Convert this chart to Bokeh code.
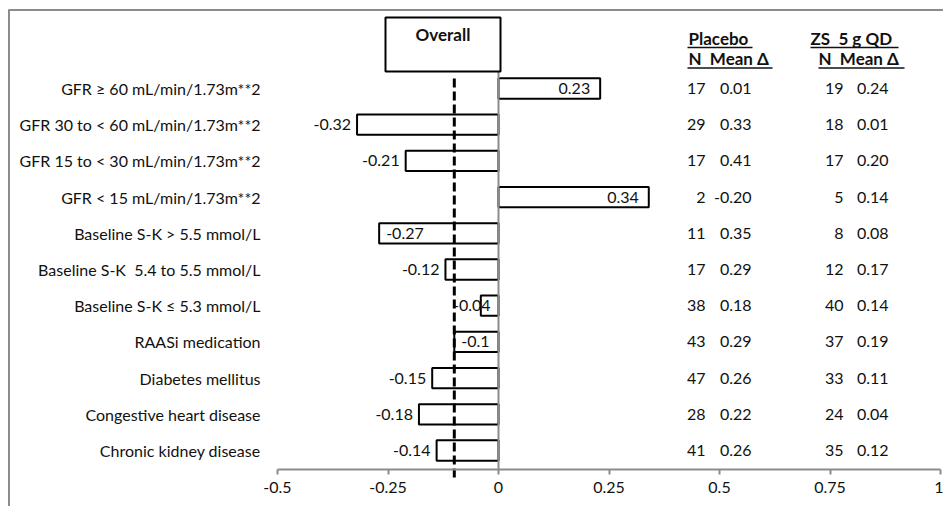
from bokeh.plotting import figure
from bokeh.models import Range1d, FixedTicker, LinearAxis, ColumnDataSource
from bokeh.core.properties import value
from bokeh.embed import file_html
from bokeh.resources import INLINE

# ---------------- data ----------------
categories = [
    "GFR \u2265 60 mL/min/1.73m**2",
    "GFR 30 to < 60 mL/min/1.73m**2",
    "GFR 15 to < 30 mL/min/1.73m**2",
    "GFR < 15 mL/min/1.73m**2",
    "Baseline S-K > 5.5 mmol/L",
    "Baseline S-K \u00a05.4 to 5.5 mmol/L",
    "Baseline S-K \u2264 5.3 mmol/L",
    "RAASi medication",
    "Diabetes mellitus",
    "Congestive heart disease",
    "Chronic kidney disease",
]
effect = [0.23, -0.32, -0.21, 0.34, -0.27, -0.12, -0.04, -0.1, -0.15, -0.18, -0.14]
effect_labels = ["0.23", "-0.32", "-0.21", "0.34", "-0.27", "-0.12", "-0.04", "-0.1", "-0.15", "-0.18", "-0.14"]
overall_effect = -0.1
placebo_n = ["17", "29", "17", "2", "11", "17", "38", "43", "47", "28", "41"]
placebo_mean = ["0.01", "0.33", "0.41", "-0.20", "0.35", "0.29", "0.18", "0.29", "0.26", "0.22", "0.26"]
zs_n = ["19", "18", "17", "5", "8", "12", "40", "37", "33", "24", "35"]
zs_mean = ["0.24", "0.01", "0.20", "0.14", "0.08", "0.17", "0.14", "0.19", "0.11", "0.04", "0.12"]
tick_values = [-0.5, -0.25, 0, 0.25, 0.5, 0.75, 1]
tick_labels = ["-0.5", "-0.25", "0", "0.25", "0.5", "0.75", "1"]
header_groups = ["Placebo", "ZS \u00a05 g QD"]
header_sub = "N \u00a0Mean \u0394"

# label placement style per bar (Excel-like data label positions)
label_mode = ["in", "out", "out", "in", "in", "out", "mid", "in", "out", "out", "out"]

# ---------------- layout constants (pixels) ----------------
W, H = 943, 506
X0, XS = 498.0, 442.0      # pixel of value 0, pixels per unit
Y0, DY = 88.0, 36.2        # pixel of first row centre, pixels per row


def px_x(px):
    return (px - X0) / XS


def px_y(py):
    return (py - Y0) / DY


FONT = value("Lato")
FS = "16px"
FS_B = "17px"
INK = "#111111"
GREY = "#8c8c8c"

p = figure(width=W, height=H, output_backend="svg", toolbar_location=None,
           x_range=Range1d(px_x(0), px_x(W)), y_range=Range1d(px_y(H), px_y(0)),
           x_axis_location=None, y_axis_location=None,
           min_border=0, min_border_left=0, min_border_right=0,
           min_border_top=0, min_border_bottom=0)
p.outline_line_color = None
p.xgrid.visible = False
p.ygrid.visible = False
p.background_fill_color = "white"
p.border_fill_color = "white"

rows = list(range(len(categories)))

# outer frame (top and left edges)
p.segment(x0=[px_x(8.5), px_x(8)], y0=[px_y(H), px_y(9.5)],
          x1=[px_x(8.5), px_x(W)], y1=[px_y(9), px_y(9.5)],
          line_color=GREY, line_width=2)

# bars
bar_src = ColumnDataSource(dict(
    y=rows,
    left=[min(0, v) for v in effect],
    right=[max(0, v) for v in effect],
))
p.hbar(y="y", left="left", right="right", height=0.56, source=bar_src,
       fill_color="white", line_color="black", line_width=2)

# zero reference line
p.segment(x0=[0], y0=[px_y(71)], x1=[0], y1=[px_y(469)], line_color=GREY, line_width=2)

# overall box
p.quad(left=[px_x(385)], right=[px_x(500)], top=[px_y(17)], bottom=[px_y(71)],
       fill_color="white", line_color="black", line_width=2)
p.text(x=[(px_x(385) + px_x(500)) / 2], y=[px_y(34)], text=["Overall"],
       text_font=FONT, text_font_size=FS_B, text_font_style="bold",
       text_align="center", text_baseline="middle", text_color=INK)

# overall dashed line
p.segment(x0=[overall_effect], y0=[px_y(78)], x1=[overall_effect], y1=[px_y(478)],
          line_color="black", line_width=3, line_dash="9 4")

# bar value labels
aligns, offsets = [], []
for v, m in zip(effect, label_mode):
    if m == "in" and v > 0:
        aligns.append("right"); offsets.append(-10)
    elif m == "in":
        aligns.append("left"); offsets.append(7)
    elif m == "mid":
        aligns.append("center"); offsets.append(-9)
    else:
        aligns.append("right"); offsets.append(-6)
lab_src = ColumnDataSource(dict(x=effect, y=rows, text=effect_labels, align=aligns, off=offsets))
p.text(x="x", y="y", text="text", x_offset="off", text_align="align", source=lab_src,
       text_font=FONT, text_font_size=FS, text_baseline="middle", text_color=INK)

# category labels
p.text(x=[px_x(260)] * len(rows), y=rows, text=categories,
       text_font=FONT, text_font_size=FS, text_align="right", text_baseline="middle",
       text_color=INK)

# table columns
for col_px, col in [(705, placebo_n), (751, placebo_mean), (843, zs_n), (888, zs_mean)]:
    p.text(x=[px_x(col_px)] * len(rows), y=rows, text=col,
           text_font=FONT, text_font_size=FS, text_align="right", text_baseline="middle",
           text_color=INK)

# table headers
p.text(x=[px_x(688), px_x(810)], y=[px_y(38)] * 2, text=header_groups,
       text_font=FONT, text_font_size=FS_B, text_font_style="bold",
       text_align="left", text_baseline="middle", text_color=INK)
p.text(x=[px_x(688), px_x(818)], y=[px_y(58)] * 2, text=[header_sub] * 2,
       text_font=FONT, text_font_size=FS_B, text_font_style="bold",
       text_align="left", text_baseline="middle", text_color=INK)
p.segment(x0=[px_x(687), px_x(810), px_x(687), px_x(818)],
          y0=[px_y(47), px_y(47), px_y(67.5), px_y(67.5)],
          x1=[px_x(752), px_x(898), px_x(772), px_x(904)],
          y1=[px_y(47), px_y(47), px_y(67.5), px_y(67.5)],
          line_color=INK, line_width=1.5)

# x axis
xaxis = LinearAxis(ticker=FixedTicker(ticks=tick_values), bounds=(-0.5, 1),
                   fixed_location=px_y(469))
xaxis.major_label_overrides = {t: l for t, l in zip(tick_values, tick_labels)}
xaxis.axis_line_color = GREY
xaxis.axis_line_width = 2
xaxis.major_tick_line_color = GREY
xaxis.major_tick_line_width = 2
xaxis.major_tick_in = 0
xaxis.major_tick_out = 5
xaxis.minor_tick_line_color = None
xaxis.major_label_text_font = "Lato"
xaxis.major_label_text_font_size = FS
xaxis.major_label_text_color = INK
xaxis.major_label_standoff = 7
p.add_layout(xaxis, "below")

open("out.html", "w").write(file_html(p, INLINE))
